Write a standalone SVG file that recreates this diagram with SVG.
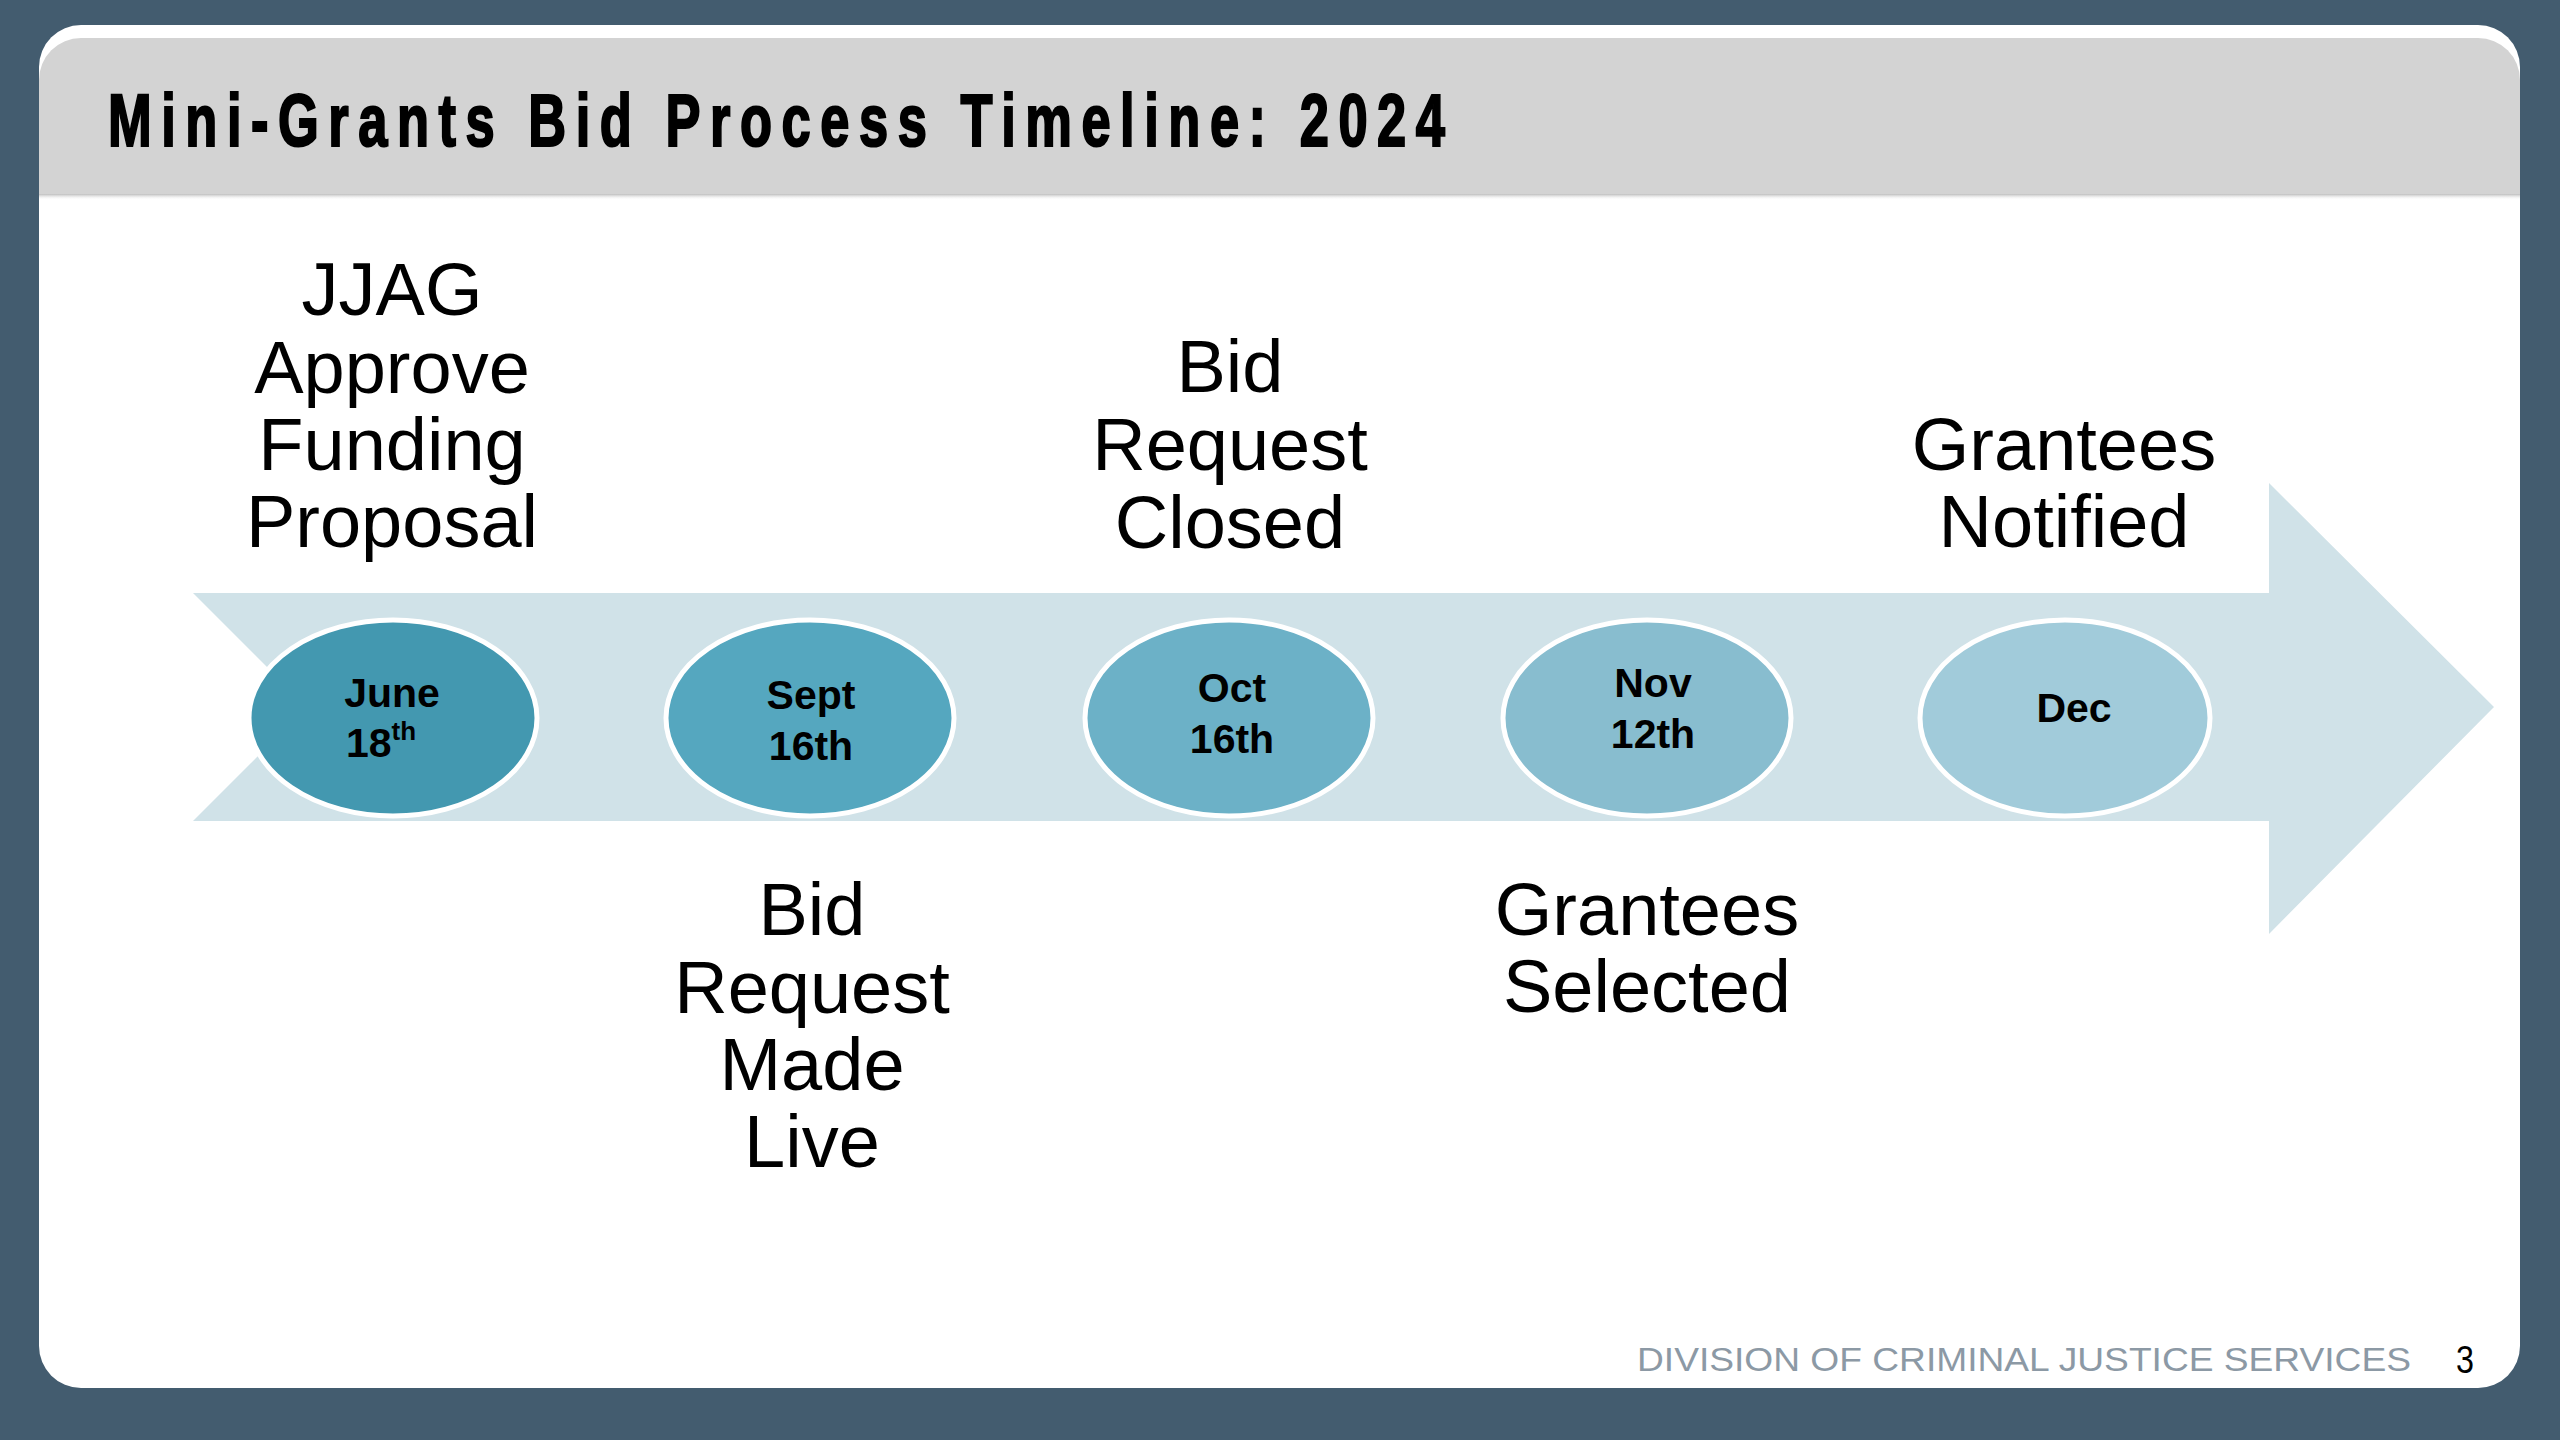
<svg xmlns="http://www.w3.org/2000/svg" width="2560" height="1440" viewBox="0 0 2560 1440">
<defs>
<style>
.lbl{font-family:"Liberation Sans",Arial,sans-serif;font-size:74px;fill:#000;text-anchor:middle}
.dt{font-family:"Liberation Sans",Arial,sans-serif;font-size:41px;font-weight:bold;fill:#000;text-anchor:middle}
.ell{stroke:#ffffff;stroke-width:5}
</style>
<linearGradient id="sh" x1="0" y1="0" x2="0" y2="1">
<stop offset="0" stop-color="#bdbdbd"/>
<stop offset="1" stop-color="#ffffff" stop-opacity="0"/>
</linearGradient>
</defs>
<rect x="0" y="0" width="2560" height="1440" fill="#435c6f"/>
<g id="panel">
<rect x="39" y="25" width="2481" height="1363" rx="42" ry="42" fill="#ffffff"/>
<path d="M39,80 A42,42 0 0 1 81,38 L2478,38 A42,42 0 0 1 2520,80 L2520,194 L39,194 Z" fill="#d3d3d3"/>
<rect x="39" y="194" width="2481" height="6" fill="url(#sh)"/>
<text x="108" y="146" transform="translate(108 0) scale(0.7 1) translate(-108 0)" textLength="1910" lengthAdjust="spacing" style="font-family:'Liberation Sans',Arial,sans-serif;font-size:75px;font-weight:bold;fill:#000;stroke:#000;stroke-width:2.2">Mini-Grants Bid Process Timeline: 2024</text>
</g>
<g id="connectors">
<path id="arrow" d="M193,593 L2269,593 L2269,483 L2494,707 L2269,934 L2269,821 L193,821 L307,707 Z" fill="#d0e2e8"/>
</g>
<g id="june">
<ellipse class="ell" cx="393" cy="718" rx="144" ry="98" fill="#4398b0"/>
<text class="dt" x="392" y="707">June</text>
<text class="dt" x="381" y="757">18<tspan font-size="26" dy="-17">th</tspan></text>
<text class="lbl" x="392" y="315">JJAG</text>
<text class="lbl" x="392" y="393">Approve</text>
<text class="lbl" x="392" y="470">Funding</text>
<text class="lbl" x="392" y="547">Proposal</text>
</g>
<g id="sept">
<ellipse class="ell" cx="810" cy="718" rx="144" ry="98" fill="#55a7bf"/>
<text class="dt" x="811" y="709">Sept</text>
<text class="dt" x="811" y="760">16th</text>
<text class="lbl" x="812" y="935">Bid</text>
<text class="lbl" x="812" y="1013">Request</text>
<text class="lbl" x="812" y="1090">Made</text>
<text class="lbl" x="812" y="1167">Live</text>
</g>
<g id="oct">
<ellipse class="ell" cx="1229" cy="718" rx="144" ry="98" fill="#6cb1c7"/>
<text class="dt" x="1232" y="702">Oct</text>
<text class="dt" x="1232" y="753">16th</text>
<text class="lbl" x="1230" y="392">Bid</text>
<text class="lbl" x="1230" y="470">Request</text>
<text class="lbl" x="1230" y="548">Closed</text>
</g>
<g id="nov">
<ellipse class="ell" cx="1647" cy="718" rx="144" ry="98" fill="#88bdcf"/>
<text class="dt" x="1653" y="697">Nov</text>
<text class="dt" x="1653" y="748">12th</text>
<text class="lbl" x="1647" y="935">Grantees</text>
<text class="lbl" x="1647" y="1012">Selected</text>
</g>
<g id="dec">
<ellipse class="ell" cx="2065" cy="718" rx="145" ry="98" fill="#a1cbda"/>
<text class="dt" x="2074" y="722">Dec</text>
<text class="lbl" x="2064" y="470">Grantees</text>
<text class="lbl" x="2064" y="547">Notified</text>
</g>
<g id="footer">
<text x="1637" y="1371" textLength="774" lengthAdjust="spacingAndGlyphs" style="font-family:'Liberation Sans',Arial,sans-serif;font-size:34px;fill:#8c99a5">DIVISION OF CRIMINAL JUSTICE SERVICES</text>
<text x="2465" y="1373" text-anchor="middle" transform="translate(2465 0) scale(0.85 1) translate(-2465 0)" style="font-family:'Liberation Sans',Arial,sans-serif;font-size:38px;fill:#000">3</text>
</g>
</svg>
